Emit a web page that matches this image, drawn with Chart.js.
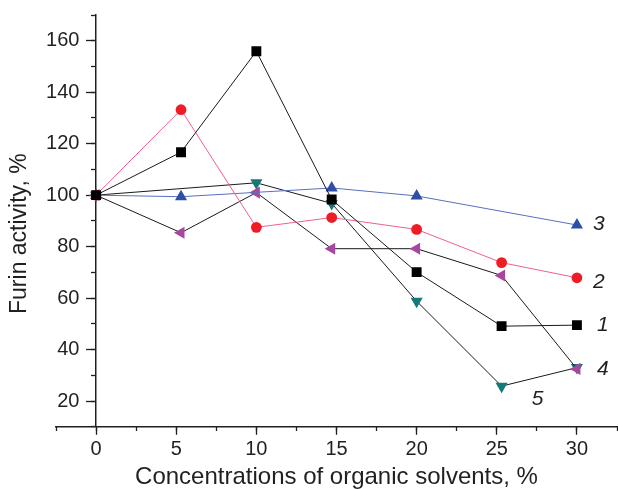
<!DOCTYPE html>
<html><head><meta charset="utf-8">
<script src="https://cdn.jsdelivr.net/npm/chart.js@4"></script>
<style>html,body{margin:0;padding:0;background:#fff}</style>
</head><body>
<canvas id="c" width="618" height="489"></canvas>
<script>
const concentrations = [0, 5.3, 10, 14.7, 20, 25.3, 30];
const series1 = [100, 116.7, 155.9, 98.3, 70.1, 49.1, 49.5];
const series2 = [100, 133.2, 87.5, 91.3, 86.7, 73.8, 67.9];
const series3 = [100, 99.4, null, 102.8, 99.7, null, 88.4];
const series4 = [100, 85.4, 101, 79.2, 79.2, 68.8, 32.5];
const series5 = [100, null, 104.8, 96.8, 58.8, 25.8, 33];
const seriesNames = ['1', '2', '3', '4', '5'];
const yTickValues = [20, 40, 60, 80, 100, 120, 140, 160];
const xTickValues = [0, 5, 10, 15, 20, 25, 30];

const FONT = '"Liberation Sans", Arial, sans-serif';
const INK = '#231f20';

function pts(vals) {
  const out = [];
  vals.forEach((v, i) => { if (v !== null) out.push({ x: concentrations[i], y: v }); });
  return out;
}

const styles = [
  { line: '#1a1a1a', fill: '#000000', pointStyle: 'rect', r: 7, rot: 0 },
  { line: '#ef5f93', fill: '#ee1c25', pointStyle: 'circle', r: 5.4, rot: 0 },
  { line: '#5a6fc0', fill: '#2f4ea5', pointStyle: 'triangle', r: 7, rot: 0 },
  { line: '#1a1a1a', fill: '#a8479f', pointStyle: 'triangle', r: 7, rot: -90 },
  { line: '#1a1a1a', fill: '#17787a', pointStyle: 'triangle', r: 7, rot: 180 }
];
const allSeries = [series1, series2, series3, series4, series5];

const datasets = allSeries.map((s, i) => ({
  label: seriesNames[i],
  data: pts(s),
  borderColor: styles[i].line,
  borderWidth: 1,
  backgroundColor: styles[i].fill,
  pointBackgroundColor: styles[i].fill,
  pointBorderColor: styles[i].fill,
  pointBorderWidth: 0,
  pointStyle: styles[i].pointStyle,
  pointRadius: styles[i].r,
  pointRotation: styles[i].rot,
  tension: 0,
  fill: false
}));

const labelPlugin = {
  id: 'seriesLabels',
  afterDatasetsDraw(chart, args, opts) {
    const ctx = chart.ctx;
    ctx.save();
    ctx.font = 'italic 21px ' + FONT;
    ctx.fillStyle = INK;
    ctx.textAlign = 'center';
    ctx.textBaseline = 'middle';
    opts.anchors.forEach((a, i) => {
      const meta = chart.getDatasetMeta(i);
      const idx = chart.data.datasets[i].data.findIndex(p => p.x === a.at);
      const el = meta.data[idx];
      ctx.fillText(seriesNames[i], el.x + a.dx, el.y + a.dy);
    });
    ctx.restore();
  }
};

const noPad = s => { s.paddingLeft = 0; s.paddingRight = 0; s.paddingTop = 0; s.paddingBottom = 0; };

new Chart(document.getElementById('c'), {
  type: 'line',
  data: { datasets },
  plugins: [labelPlugin],
  options: {
    responsive: false,
    animation: false,
    layout: { autoPadding: false, padding: { left: 2, top: 15, right: 1, bottom: 0 } },
    plugins: {
      legend: { display: false },
      tooltip: { enabled: false },
      seriesLabels: {
        anchors: [
          { at: 30, dx: 26, dy: 0 },
          { at: 30, dx: 22, dy: 4 },
          { at: 30, dx: 22, dy: -1 },
          { at: 30, dx: 26, dy: 0 },
          { at: 25.3, dx: 36, dy: 13 }
        ]
      }
    },
    scales: {
      x: {
        type: 'linear', axis: 'x', position: 'bottom', min: -2.5, max: 32.5,
        ticks: { stepSize: 5, color: INK, font: { family: FONT, size: 20 }, padding: 2.5, maxRotation: 0, autoSkip: false },
        afterBuildTicks: s => { s.ticks = xTickValues.map(v => ({ value: v })); },
        afterFit: noPad,
        grid: { display: true, drawOnChartArea: false, drawTicks: true, tickLength: 8, color: INK, tickWidth: 1.3 },
        border: { display: true, color: INK, width: 1.5 },
        title: { display: true, text: 'Concentrations of organic solvents, %', color: INK, font: { family: FONT, size: 24, lineHeight: 1.0 }, padding: { top: 1.2, bottom: 0 } }
      },
      xMinor: {
        type: 'linear', axis: 'x', position: { y: 10 }, min: -2.5, max: 32.5,
        ticks: { display: false, stepSize: 2.5 },
        afterFit: noPad,
        grid: { display: true, drawOnChartArea: false, drawTicks: true, tickLength: 4, color: INK, tickWidth: 1.3 },
        border: { display: false }
      },
      y: {
        type: 'linear', axis: 'y', position: { x: 0 }, min: 10, max: 170,
        ticks: { stepSize: 20, color: INK, font: { family: FONT, size: 20 }, padding: 0, callback: v => v + '   ' },
        afterBuildTicks: s => { s.ticks = yTickValues.map(v => ({ value: v })); },
        afterFit: noPad,
        grid: { display: true, drawOnChartArea: false, drawTicks: true, tickLength: 9, color: INK, tickWidth: 1.3 },
        border: { display: true, color: INK, width: 1.5 }
      },
      yMinor: {
        type: 'linear', axis: 'y', position: { x: 0 }, min: 10, max: 170,
        ticks: { display: false, stepSize: 10 },
        afterFit: noPad,
        grid: { display: true, drawOnChartArea: false, drawTicks: true, tickLength: 5, color: INK, tickWidth: 1.3 },
        border: { display: false }
      },
      yTitle: {
        type: 'linear', axis: 'y', position: 'left', min: 0, max: 1,
        ticks: { display: false },
        afterFit: noPad,
        grid: { display: false, drawTicks: false },
        border: { display: false },
        title: { display: true, text: 'Furin activity, %    ', color: INK, font: { family: FONT, size: 23 }, padding: { top: 4.2, bottom: 22.2 } }
      }
    }
  }
});
</script>
</body></html>
